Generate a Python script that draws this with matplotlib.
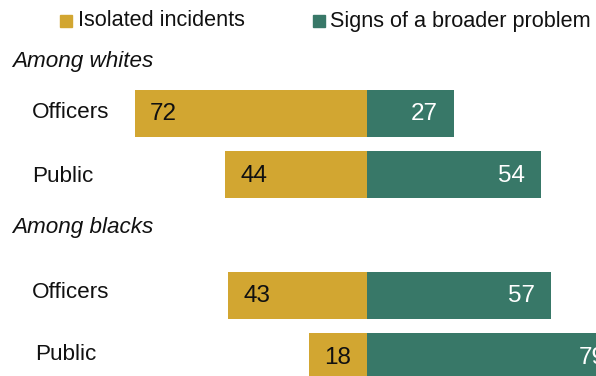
import matplotlib
matplotlib.use("Agg")
import matplotlib.pyplot as plt

# data
groups = ["Among whites", "Among blacks"]
rows = ["Officers", "Public", "Officers", "Public"]
isolated = [72, 44, 43, 18]
broader = [27, 54, 57, 79]

gold = "#D2A631"
green = "#387868"

plt.rcParams["font.family"] = ["Liberation Sans", "DejaVu Sans"]

W, H = 596, 376
fig = plt.figure(figsize=(W / 100, H / 100), dpi=100)
ax = fig.add_axes([0, 0, 1, 1])

# x in percent units, 0 at pixel 367, ~3.225 px per point; y in pixels
px = 3.225
zero = 367
ax.set_xlim(-zero / px, (W - zero) / px)
ax.set_ylim(H, 0)
ax.axis("off")

yc = [113.5, 174.5, 295.5, 356.5]
bh = 47

ax.barh(yc, [-v for v in isolated], height=bh, color=gold, linewidth=0)
ax.barh(yc, broader, height=bh, color=green, linewidth=0)

nfs = 17.5
for y, a, b in zip(yc, isolated, broader):
    ax.text(-a + 15 / px, y + 1, str(a), ha="left", va="center", fontsize=nfs, color="#111111")
    ax.text(b - 16 / px, y + 1, str(b), ha="right", va="center", fontsize=nfs, color="white")

label_x = [32, 32, 32, 35]
label_y = [113, 177, 292, 355]
for name, lx, ly in zip(rows, label_x, label_y):
    fig.text(lx / W, 1 - ly / H, name, ha="left", va="center", fontsize=16.2, color="#111111")

fig.text(12 / W, 1 - 61 / H, groups[0], ha="left", va="center", fontsize=16.2, style="italic", color="#111111")
fig.text(12 / W, 1 - 227 / H, groups[1], ha="left", va="center", fontsize=16.2, style="italic", color="#111111")

# legend
for sx, col, txt, tx in [(60, gold, "Isolated incidents", 78),
                         (313, green, "Signs of a broader problem", 330)]:
    fig.patches.append(plt.Rectangle((sx / W, 1 - 27 / H), 12 / W, 12 / H,
                                      transform=fig.transFigure, color=col))
    fig.text(tx / W, 1 - 21 / H, txt, ha="left", va="center", fontsize=15.6, color="#111111")

fig.savefig("out.png", dpi=100)
